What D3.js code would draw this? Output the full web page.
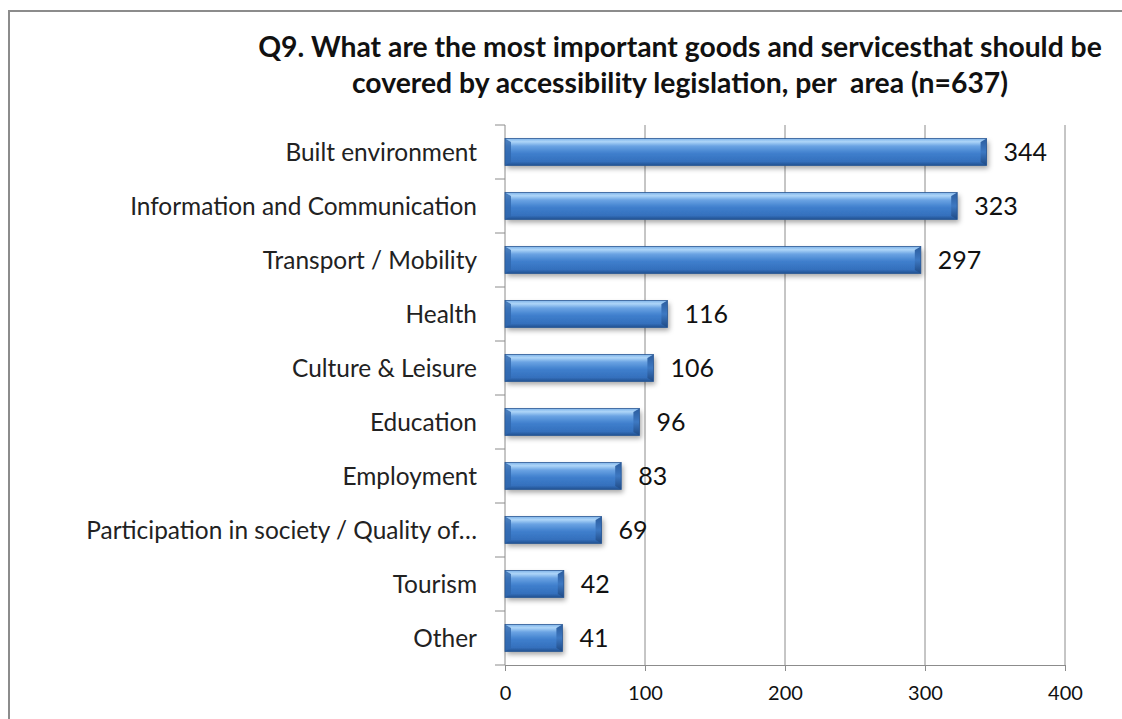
<!DOCTYPE html>
<html>
<head>
<meta charset="utf-8">
<script src="https://cdn.jsdelivr.net/npm/d3@7/dist/d3.min.js"></script>
<style>
  html, body { margin: 0; padding: 0; background: #fff; }
  svg { display: block; }
  text { font-family: Lato, "Open Sans", "Noto Sans", sans-serif; white-space: pre; }
</style>
</head>
<body>
<svg id="chart" width="1122" height="719"></svg>
<script>
// Survey answers: number of respondents naming each area
const categories = [
  "Built environment",
  "Information and Communication",
  "Transport / Mobility",
  "Health",
  "Culture & Leisure",
  "Education",
  "Employment",
  "Participation in society / Quality of…",
  "Tourism",
  "Other"
];
const counts = [344, 323, 297, 116, 106, 96, 83, 69, 42, 41];
const xTicks = [0, 100, 200, 300, 400];
const titleLines = [
  "Q9. What are the most important goods and servicesthat should be",
  "covered by accessibility legislation, per  area (n=637)"
];

const svg = d3.select("#chart");
const W = 1122, H = 719;

// outer frame
svg.append("path")
  .attr("d", `M9,${H} L9,11 L${W},11`)
  .attr("fill", "none").attr("stroke", "#8c8c8c").attr("stroke-width", 2);

// fit text to a target width by adjusting font size
function fitText(sel, targetWidth, startSize) {
  sel.attr("font-size", startSize);
  const w = sel.node().getComputedTextLength();
  sel.attr("font-size", startSize * targetWidth / w);
}

// title
const titleCx = 680;
const t1 = svg.append("text").attr("x", titleCx).attr("y", 57)
  .attr("text-anchor", "middle").attr("font-weight", "bold").attr("fill", "#111")
  .text(titleLines[0]);
fitText(t1, 844, 22);
svg.append("text").attr("x", titleCx).attr("y", 93)
  .attr("text-anchor", "middle").attr("font-weight", "bold").attr("fill", "#111")
  .attr("font-size", t1.attr("font-size"))
  .text(titleLines[1]);

// scales
const x = d3.scaleLinear().domain([0, 400]).range([505, 1065]);
const y = d3.scaleBand().domain(categories).range([125, 665])
  .paddingInner(0.5).paddingOuter(0.25);

// defs: bar gradient and shadow
const defs = svg.append("defs");
const grad = defs.append("linearGradient").attr("id", "barGrad")
  .attr("x1", 0).attr("y1", 0).attr("x2", 0).attr("y2", 1);
[[0, "#7fb4ea"], [0.12, "#aed5f8"], [0.28, "#6aa3e3"], [0.55, "#3f7fcd"], [0.85, "#3470bd"], [1, "#23518f"]]
  .forEach(([o, c]) => grad.append("stop").attr("offset", o).attr("stop-color", c));
const capGrad = defs.append("linearGradient").attr("id", "capGrad")
  .attr("x1", 0).attr("y1", 0).attr("x2", 0).attr("y2", 1);
[[0, "#2c5d9e"], [0.5, "#3d78c2"], [1, "#1f4a85"]]
  .forEach(([o, c]) => capGrad.append("stop").attr("offset", o).attr("stop-color", c));
const shadow = defs.append("filter").attr("id", "shadow")
  .attr("x", "-5%").attr("y", "-30%").attr("width", "115%").attr("height", "180%");
shadow.append("feDropShadow").attr("dx", 2).attr("dy", 3).attr("stdDeviation", 2.5)
  .attr("flood-color", "#000").attr("flood-opacity", 0.35);

// gridlines
svg.append("g").selectAll("line").data(xTicks.slice(1)).join("line")
  .attr("x1", d => x(d)).attr("x2", d => x(d))
  .attr("y1", 125).attr("y2", 665)
  .attr("stroke", "#8c8c8c").attr("stroke-width", 1);

// x axis
const xAxis = svg.append("g").attr("transform", "translate(0,665)")
  .call(d3.axisBottom(x).tickValues(xTicks).tickSize(6).tickPadding(15));
xAxis.select(".domain").attr("stroke", "#8c8c8c");
xAxis.selectAll(".tick line").attr("stroke", "#8c8c8c");
xAxis.selectAll("text").attr("font-size", 20).attr("fill", "#111")
  .style("font-family", "Lato, 'Open Sans', sans-serif");

// y axis: line with ticks at band boundaries
const yAxis = svg.append("g");
yAxis.append("line").attr("x1", 505).attr("x2", 505).attr("y1", 125).attr("y2", 665)
  .attr("stroke", "#8c8c8c");
const bounds = d3.range(categories.length + 1).map(i => y.range()[0] + i * (y.range()[1] - y.range()[0]) / categories.length);
yAxis.selectAll("line.tk").data(bounds).join("line").attr("class", "tk")
  .attr("x1", 495).attr("x2", 505).attr("y1", d => d).attr("y2", d => d)
  .attr("stroke", "#8c8c8c");

// category labels
const labels = svg.append("g").selectAll("text").data(categories).join("text")
  .attr("x", 477).attr("y", d => y(d) + y.bandwidth() / 2)
  .attr("dy", "0.35em").attr("text-anchor", "end")
  .attr("fill", "#222").attr("font-size", 20)
  .text(d => d);
// scale labels so the longest fits the available width
const longest = labels.filter((d, i) => i === 7);
const lw = longest.node().getComputedTextLength();
labels.attr("font-size", 20 * 391 / lw);

// bars
const rows = categories.map((c, i) => ({ cat: c, v: counts[i] }));
const bars = svg.append("g").selectAll("g").data(rows).join("g");
bars.append("rect")
  .attr("x", x(0)).attr("y", d => y(d.cat))
  .attr("width", d => x(d.v) - x(0)).attr("height", y.bandwidth())
  .attr("fill", "url(#barGrad)").attr("filter", "url(#shadow)");
// right end bevel
const bev = 6;
bars.append("path")
  .attr("d", d => {
    const x1 = x(d.v), t = y(d.cat), b = t + y.bandwidth();
    return `M${x1 - bev},${t + bev * 0.6} L${x1},${t} L${x1},${b} L${x1 - bev},${b - bev * 0.6} Z`;
  })
  .attr("fill", "url(#capGrad)");
// left end bevel
bars.append("path")
  .attr("d", d => {
    const x0 = x(0), t = y(d.cat), b = t + y.bandwidth();
    return `M${x0},${t} L${x0 + bev},${t + bev * 0.6} L${x0 + bev},${b - bev * 0.6} L${x0},${b} Z`;
  })
  .attr("fill", "#2f66ad").attr("opacity", 0.8);
// thin outline
bars.append("rect")
  .attr("x", x(0)).attr("y", d => y(d.cat))
  .attr("width", d => x(d.v) - x(0)).attr("height", y.bandwidth())
  .attr("fill", "none").attr("stroke", "#2a5793").attr("stroke-width", 0.8);

// value labels
svg.append("g").selectAll("text").data(rows).join("text")
  .attr("x", d => x(d.v) + 17).attr("y", d => y(d.cat) + y.bandwidth() / 2)
  .attr("dy", "0.36em").attr("fill", "#111").attr("font-size", 25)
  .text(d => d.v);
</script>
</body>
</html>
